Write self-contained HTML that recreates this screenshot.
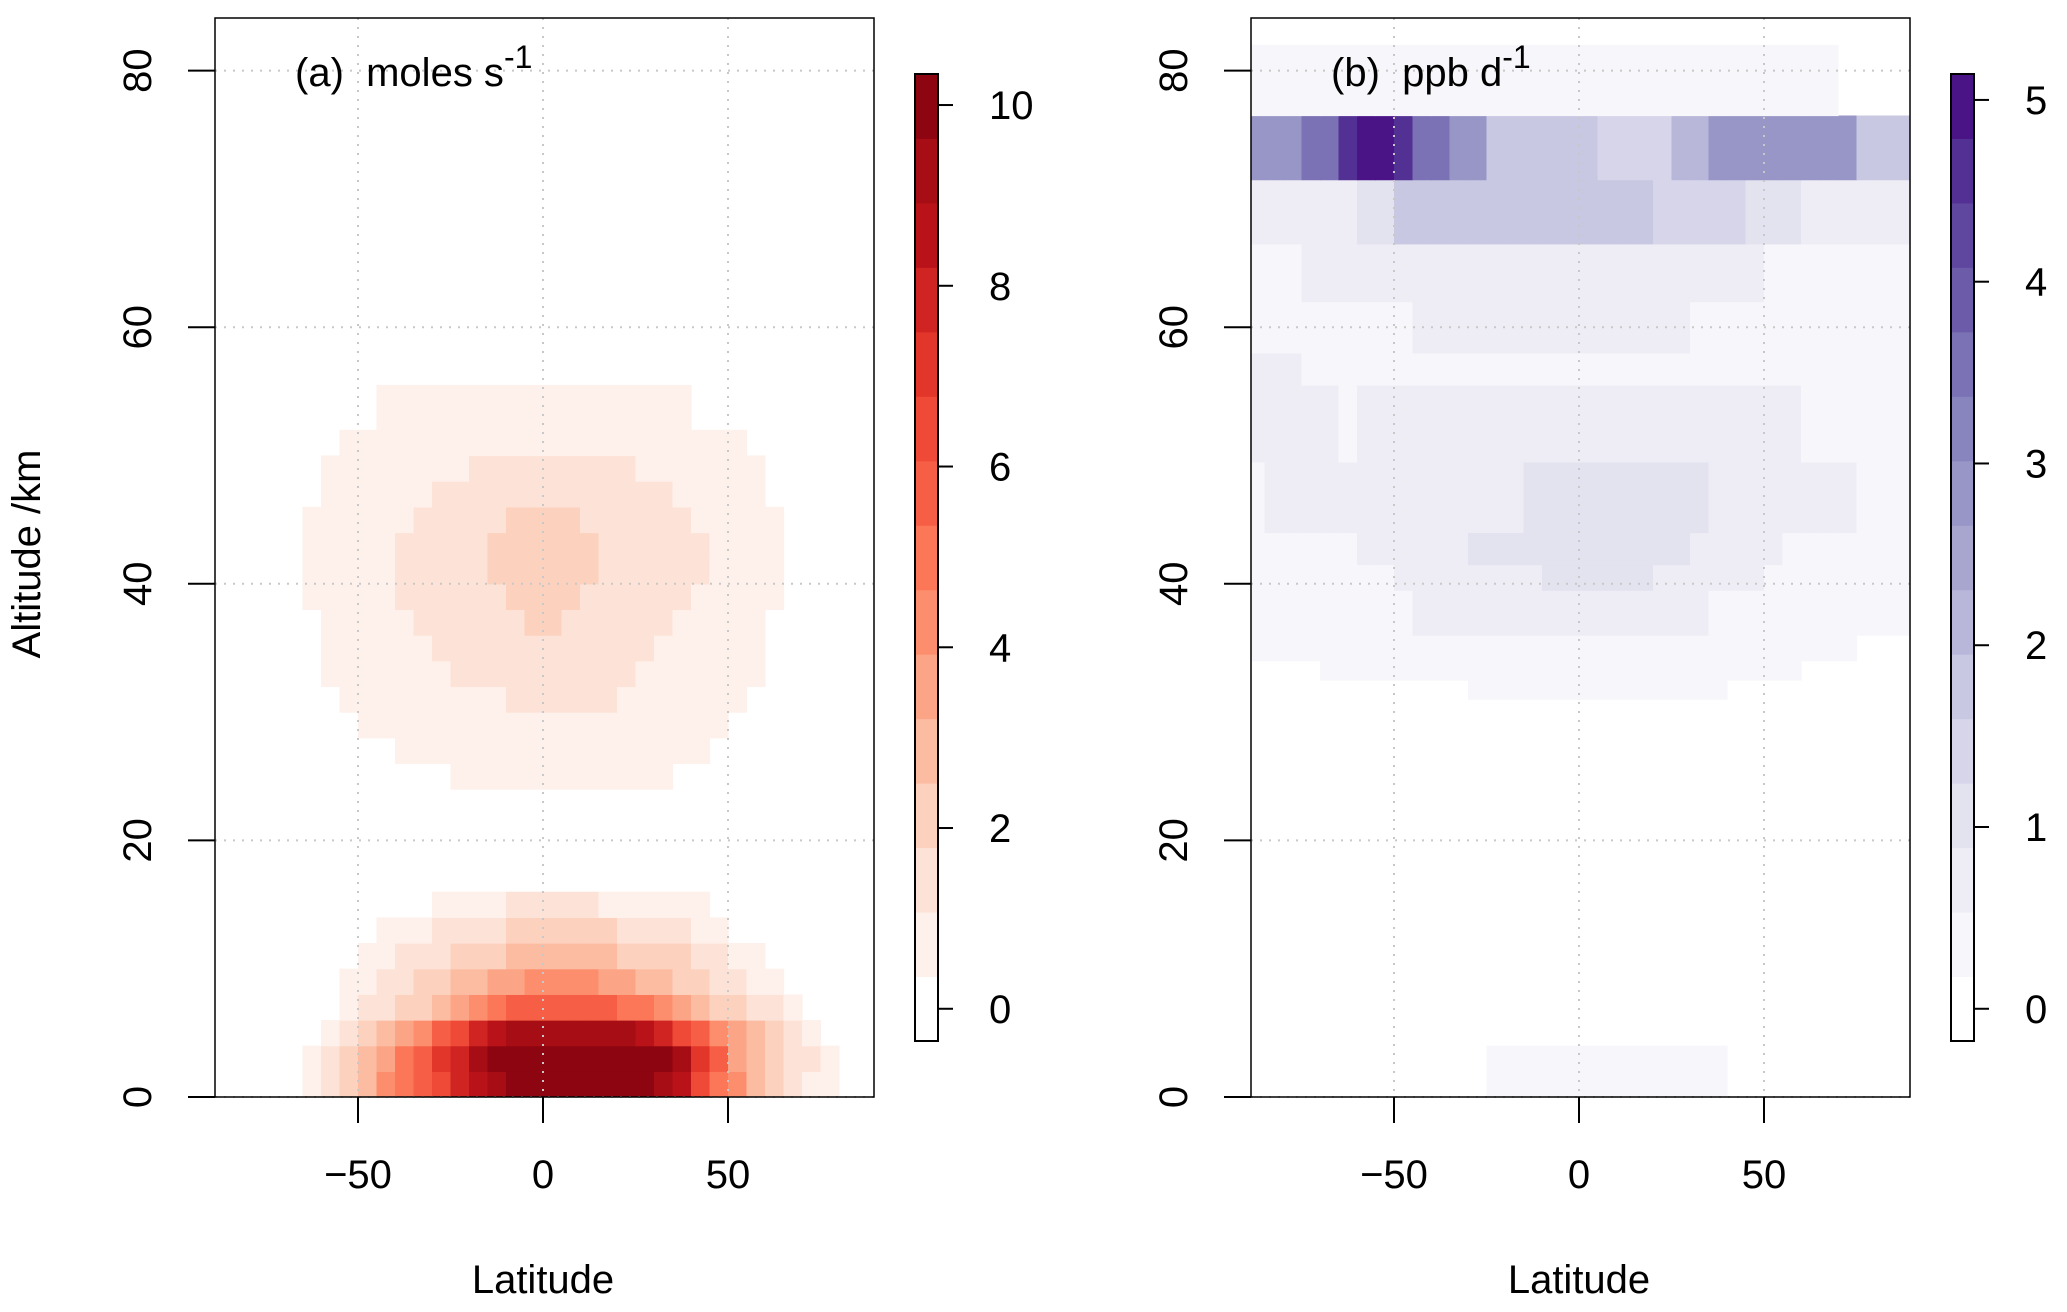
<!DOCTYPE html>
<html><head><meta charset="utf-8"><style>
html,body{margin:0;padding:0;background:#fff;}
svg{display:block;font-family:"Liberation Sans",sans-serif;}
</style></head><body>
<svg id="chart" width="2067" height="1312" viewBox="0 0 2067 1312" xmlns="http://www.w3.org/2000/svg"></svg>
<script>
// ---- data ----
// rows: [altitude-from km, altitude-to km, runs of [fromCol, toCol, level]]; col i covers lat -90+5i .. -85+5i
const rowsA = [
 [0,2,[[5,33,1],[6,31,2],[7,30,3],[8,29,4],[9,28,6],[10,27,7],[11,26,8],[12,26,9],[13,25,11],[14,25,12],[15,24,13],[16,23,14]]],
 [2,4,[[5,33,1],[6,32,2],[7,30,3],[8,29,4],[9,28,5],[10,27,7],[11,27,8],[12,26,10],[13,25,11],[14,25,13],[15,24,14]]],
 [4,6,[[6,32,1],[7,31,2],[8,30,3],[9,29,4],[10,28,5],[11,27,6],[12,26,8],[13,25,9],[14,24,11],[15,23,12],[16,22,13]]],
 [6,8,[[7,31,1],[8,30,2],[10,28,3],[12,26,4],[13,25,5],[14,24,6],[15,23,7],[16,21,8]]],
 [8,10,[[7,30,1],[9,28,2],[11,26,3],[13,24,4],[15,22,5],[17,20,6]]],
 [10,12,[[8,29,1],[10,27,2],[13,25,3],[16,21,4]]],
 [12,14,[[9,27,1],[12,25,2],[16,21,3]]],
 [14,16,[[12,26,1],[16,20,2]]],
 [24,26,[[13,24,1]]],
 [26,28,[[10,26,1]]],
 [28,30,[[8,27,1]]],
 [30,32,[[7,28,1],[16,21,2]]],
 [32,34,[[6,29,1],[13,22,2]]],
 [34,36,[[6,29,1],[12,23,2]]],
 [36,38,[[6,29,1],[11,24,2],[17,18,3]]],
 [38,40,[[5,30,1],[10,25,2],[16,19,3]]],
 [40,42,[[5,30,1],[10,26,2],[15,20,3]]],
 [42,44,[[5,30,1],[10,26,2],[15,20,3]]],
 [44,46,[[5,30,1],[11,25,2],[16,19,3]]],
 [46,48,[[6,29,1],[12,24,2]]],
 [48,50,[[6,29,1],[14,22,2]]],
 [50,52,[[7,28,1]]],
 [52,55.5,[[9,25,1]]]
];
const rowsB = [
 [0,4,[[13,25,1]]],
 [31,32.5,[[12,25,1]]],
 [32.5,34,[[4,29,1]]],
 [34,36,[[0,32,1]]],
 [36,39.5,[[0,35,1],[9,24,2]]],
 [39.5,41.5,[[0,35,1],[8,27,2],[16,21,3]]],
 [41.5,44,[[0,35,1],[6,28,2],[12,23,3]]],
 [44,49.5,[[0,35,1],[1,32,2],[15,24,3]]],
 [49.5,55.5,[[0,35,1],[0,4,2],[6,29,2]]],
 [55.5,58,[[0,35,1],[0,2,2]]],
 [58,62,[[0,35,1],[9,23,2]]],
 [62,66.5,[[0,35,1],[3,27,2]]],
 [66.5,71.5,[[0,35,2],[6,7,3],[8,21,5],[22,26,4],[27,29,3]]],
 [71.5,76.5,[[0,35,5],[0,2,8],[3,4,10],[5,8,13],[6,7,14],[9,10,10],[11,12,8],[19,22,4],[23,24,6],[25,32,8]]],
 [76.5,82,[[0,31,1]]]
];
const latTicks = [-50, 0, 50];
const altTicks = [0, 20, 40, 60, 80];
const cbTicksA = [0, 2, 4, 6, 8, 10];
const cbTicksB = [0, 1, 2, 3, 4, 5];
const palA = ["#ffffff","#fef0ea","#fde3d7","#fcd2be","#fcbca2","#fca586","#fc8e6d","#fb7757","#f65f46","#ee4a37","#e2362b","#cf2422","#b91319","#a70d15","#8d0510"];
const palB = ["#ffffff","#f7f6fa","#eeedf5","#e3e2ef","#d6d5ea","#c8c8e2","#b8b7d9","#a8a5cf","#9896c6","#8885be","#7a72b5","#6c5ba8","#5f479f","#533094","#4a1486"];

const NS = "http://www.w3.org/2000/svg";
const svg = document.getElementById('chart');
function mk(tag, attrs, parent, text){
  const e = document.createElementNS(NS, tag);
  for (const k in attrs) e.setAttribute(k, attrs[k]);
  if (text !== undefined) e.textContent = text;
  (parent||svg).appendChild(e); return e;
}

function panel(cfg){
  const g = mk('g', {});
  
  
  const xs = lat => cfg.x0 + lat * 3.70;
  const ys = alt => 1097 - alt * 12.83;
  const L = cfg.x0 - 328, R = cfg.x0 + 331, T = 18, B = 1097;
  const clipId = 'clip-' + cfg.name;
  const cp = mk('clipPath', {id: clipId}, g);
  mk('rect', {x: L, y: T, width: R - L, height: B - T}, cp);
  const hm = mk('g', {'clip-path': 'url(#' + clipId + ')'}, g);
  
  
  cfg.rows.forEach(row => {
    const cols = new Array(36).fill(0);
    row[2].forEach(r => { for (let i = r[0]; i <= r[1]; i++) cols[i] = r[2]; });
    for (let i = 0; i < 36; i++) {
      if (!cols[i]) continue;
      const x1 = xs(-90 + 5 * i), x2 = xs(-85 + 5 * i);
      const c = mk('rect', {x: x1, y: ys(row[1]), width: x2 - x1 + 0.6, height: ys(row[0]) - ys(row[1]) + 0.6, fill: cfg.pal[cols[i]]}, hm);
      
      
    }
  });
  latTicks.forEach(l => {
    const gl = mk('line', {x1: xs(l), x2: xs(l), y1: T, y2: B, stroke: '#c8c8c8', 'stroke-width': 2, 'stroke-dasharray': '2 7'}, g);
    
    
  });
  altTicks.forEach(a => {
    const gl = mk('line', {x1: L, x2: R, y1: ys(a), y2: ys(a), stroke: '#c8c8c8', 'stroke-width': 2, 'stroke-dasharray': '2 7'}, g);
    
    
  });
  const box = mk('rect', {x: L, y: T, width: R - L, height: B - T, fill: 'none', stroke: '#000', 'stroke-width': 1.5}, g);
  
  
  latTicks.forEach(l => {
    mk('line', {x1: xs(l), x2: xs(l), y1: B, y2: B + 26, stroke: '#000', 'stroke-width': 2}, g);
    const t = mk('text', {x: xs(l), y: 1188, 'text-anchor': 'middle', 'font-size': 40}, g, l < 0 ? '\u2212' + (-l) : String(l));
    
    
  });
  const xt = mk('text', {x: cfg.x0, y: 1293, 'text-anchor': 'middle', 'font-size': 40}, g, 'Latitude');
  
  
  altTicks.forEach(a => {
    mk('line', {x1: L - 27, x2: L, y1: ys(a), y2: ys(a), stroke: '#000', 'stroke-width': 2}, g);
    const lx = L - 64, ly = ys(a);
    const t = mk('text', {x: lx, y: ly, 'text-anchor': 'middle', 'font-size': 40, transform: 'rotate(-90 ' + lx + ' ' + ly + ')'}, g, String(a));
    
    
  });
  const ti = mk('text', {x: L + 80, y: 86, 'font-size': 40, 'xml:space': 'preserve'}, g);
  
  
  mk('tspan', {}, ti, cfg.title + '\u00a0\u00a0' + cfg.unit);
  mk('tspan', {dy: -18, 'font-size': 32}, ti, '-1');
  const cb = mk('g', {}, g);
  
  
  const cbT = 74, cbB = 1041, bh = (cbB - cbT) / 15;
  for (let k = 0; k < 15; k++) {
    mk('rect', {x: cfg.cbx, y: cbB - (k + 1) * bh, width: 23, height: bh + 0.5, fill: cfg.pal[k]}, cb);
  }
  mk('rect', {x: cfg.cbx, y: cbT, width: 23, height: cbB - cbT, fill: 'none', stroke: '#000', 'stroke-width': 2}, cb);
  cfg.cbTicks.forEach(v => {
    const y = cbB - (v + cfg.step / 2) / cfg.step * bh;
    mk('line', {x1: cfg.cbx + 23, x2: cfg.cbx + 38, y1: y, y2: y, stroke: '#000', 'stroke-width': 2}, cb);
    const t = mk('text', {x: cfg.cbx + 74, y: y + 14, 'font-size': 40}, cb, String(v));
    
    
  });
}

panel({name: 'panel-a', x0: 543, rows: rowsA, pal: palA, title: '(a)', unit: 'moles s', cbx: 915, cbTicks: cbTicksA, step: 10.7 / 15});
panel({name: 'panel-b', x0: 1579, rows: rowsB, pal: palB, title: '(b)', unit: 'ppb d', cbx: 1951, cbTicks: cbTicksB, step: 5.32 / 15});

const yt = mk('text', {x: 40, y: 554, 'text-anchor': 'middle', 'font-size': 40, transform: 'rotate(-90 40 554)'}, svg, 'Altitude /km');


</script>
</body></html>
